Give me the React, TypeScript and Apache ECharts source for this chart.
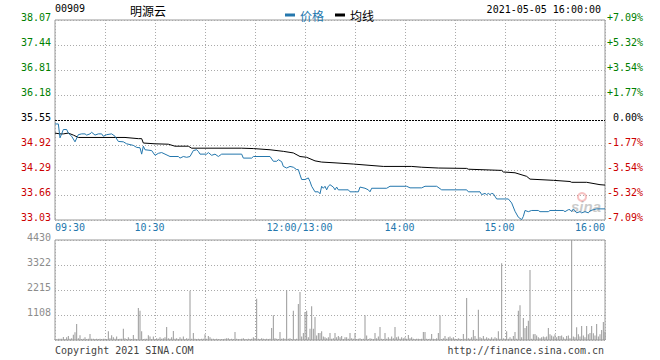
import React, { useEffect, useRef } from 'react';
import * as echarts from 'echarts';

const SYMBOL = '00909';
const NAME = '明源云';
const DATE_TEXT = '2021-05-05 16:00:00';
const COPYRIGHT = 'Copyright 2021 SINA.COM';
const SITE = 'http://finance.sina.com.cn';
const PREV_CLOSE = 35.55;
const PRICE_TICKS = [33.03, 33.66, 34.29, 34.92, 35.55, 36.18, 36.81, 37.44, 38.07];
const PCT_TICKS = ['-7.09%', '-5.32%', '-3.54%', '-1.77%', '0.00%', '+1.77%', '+3.54%', '+5.32%', '+7.09%'];
const VOL_TICKS = ['', '1108', '2215', '3322', '4430'];
const VOL_MAX = 4430;
const TIME_LABEL_MIN = [0, 60, 150, 210, 270, 330];
const TIME_LABEL_TEXT = ['09:30', '10:30', '12:00/13:00', '14:00', '15:00', '16:00'];

// [minute since 09:30 (lunch removed), price]
const PRICE_PTS: [number, number][] = [
  [0, 35.45], [2, 35.45], [3, 35.10], [4, 35.20], [5, 35.31], [7, 35.31], [8, 35.22], [10, 35.14], [12, 35.00],
  [14, 35.18], [16, 35.20], [18, 35.20], [19, 35.17], [21, 35.20], [22, 35.24], [24, 35.17], [26, 35.20], [28, 35.20],
  [29, 35.14], [31, 35.18], [34, 35.20], [36, 35.14], [38, 35.01], [41, 35.00], [43, 34.95], [45, 34.93], [47, 34.91],
  [49, 34.86], [51, 34.85], [52, 34.69], [53, 34.89], [54, 34.80], [58, 34.78], [60, 34.66], [62, 34.71], [64, 34.73],
  [66, 34.69], [69, 34.63], [74, 34.63], [75, 34.59], [77, 34.63], [79, 34.61], [81, 34.63], [83, 34.78], [85, 34.80],
  [86, 34.76], [87, 34.69], [91, 34.69], [92, 34.73], [94, 34.66], [96, 34.69], [98, 34.63], [100, 34.69], [112, 34.69],
  [113, 34.59], [118, 34.59], [119, 34.63], [129, 34.63], [131, 34.51], [133, 34.51], [134, 34.55], [136, 34.50],
  [137, 34.38], [139, 34.34], [141, 34.38], [143, 34.36], [145, 34.30], [146, 34.30], [147, 34.17], [148, 34.05],
  [150, 34.05], [152, 34.09], [153, 34.00], [154, 33.88], [156, 33.74], [158, 33.74], [159, 33.69], [160, 33.88],
  [161, 33.83], [162, 33.88], [163, 33.79], [164, 33.88], [165, 33.92], [167, 33.86], [168, 33.79], [169, 33.86],
  [170, 33.79], [176, 33.79], [177, 33.74], [182, 33.74], [183, 33.86], [186, 33.83], [188, 33.79], [189, 33.74],
  [190, 33.83], [199, 33.83], [201, 33.88], [211, 33.88], [213, 33.84], [220, 33.84], [222, 33.88], [229, 33.88],
  [232, 33.79], [247, 33.79], [248, 33.74], [255, 33.74], [256, 33.67], [258, 33.70], [259, 33.67], [260, 33.70],
  [261, 33.67], [262, 33.70], [263, 33.69], [265, 33.56], [272, 33.56], [274, 33.46], [276, 33.25], [278, 33.10],
  [280, 33.04], [281, 33.12], [282, 33.27], [284, 33.24], [286, 33.27], [290, 33.27], [291, 33.24], [296, 33.24],
  [297, 33.27], [305, 33.27], [306, 33.24], [308, 33.29], [309, 33.29], [310, 33.24], [311, 33.31], [313, 33.21],
  [315, 33.24], [316, 33.21], [318, 33.24], [320, 33.21], [321, 33.26], [323, 33.29], [325, 33.31], [330, 33.31],
];

const AVG_PTS: [number, number][] = [
  [0, 35.22], [3, 35.20], [5, 35.20], [8, 35.22], [11, 35.17], [14, 35.11], [42, 35.11], [50, 35.08], [52, 35.08],
  [53, 34.97], [60, 34.95], [68, 34.94], [72, 34.89], [80, 34.89], [82, 34.84], [112, 34.84], [119, 34.83],
  [129, 34.80], [137, 34.76], [143, 34.72], [147, 34.63], [151, 34.61], [156, 34.52], [160, 34.49], [168, 34.47],
  [179, 34.44], [197, 34.38], [214, 34.38], [220, 34.36], [230, 34.34], [247, 34.33], [248, 34.31], [268, 34.28],
  [269, 34.24], [276, 34.22], [283, 34.13], [285, 34.06], [299, 34.03], [309, 34.00], [310, 33.98], [319, 33.98],
  [327, 33.92], [330, 33.91],
];

// volume per minute, minute 0..330
const VOLUME = [
  40, 30, 50, 60, 50, 130, 40, 120, 177, 60, 80, 236, 340, 709, 80, 207, 40, 60, 120, 40, 50, 266, 50, 60, 40, 50, 40, 60, 40, 50,
  60, 40, 384, 80, 207, 120, 60, 150, 40, 50, 60, 502, 80, 40, 120, 50, 40, 221, 60, 40, 1418, 1300, 384, 40, 50, 60, 207, 150, 40, 150,
  40, 80, 60, 120, 60, 80, 120, 576, 80, 60, 120, 399, 60, 80, 40, 120, 60, 150, 40, 80, 60, 2185, 60, 310, 50, 40, 60, 40, 50, 60,
  250, 60, 177, 120, 60, 50, 40, 60, 40, 30, 40, 40, 60, 80, 80, 40, 50, 40, 354, 60, 40, 30, 60, 80, 40, 30, 60, 40, 50, 120,
  80, 1831, 60, 40, 80, 60, 40, 60, 40, 60, 532, 1092, 80, 60, 40, 354, 60, 80, 60, 2215, 60, 80, 40, 1300, 30, 60, 1595, 2126, 150, 310,
  1240, 1300, 120, 502, 1492, 502, 1019, 200, 310, 310, 384, 150, 120, 80, 120, 310, 60, 80, 310, 120, 177, 120, 177, 40, 120, 120, 60, 310, 80, 60,
  310, 40, 60, 80, 40, 60, 1092, 200, 40, 80, 60, 40, 310, 80, 150, 576, 60, 40, 310, 60, 120, 60, 150, 80, 576, 120, 150, 60, 120, 80,
  120, 60, 221, 80, 120, 60, 40, 50, 60, 40, 60, 354, 354, 60, 40, 50, 266, 60, 40, 80, 310, 1092, 40, 80, 177, 60, 120, 150, 80, 120,
  60, 40, 80, 60, 40, 266, 60, 1861, 80, 60, 120, 443, 177, 60, 1344, 120, 80, 177, 60, 120, 80, 60, 120, 60, 120, 80, 384, 60, 3400, 80,
  60, 384, 60, 120, 60, 177, 354, 60, 1300, 1536, 120, 975, 532, 620, 857, 3101, 60, 250, 266, 200, 120, 80, 120, 150, 120, 150, 532, 250, 200, 150,
  250, 120, 177, 177, 200, 120, 60, 177, 200, 80, 4430, 150, 120, 561, 250, 150, 620, 200, 120, 620, 250, 310, 620, 300, 200, 709, 150, 250, 443, 797, 354,
];

const P_MIN = PRICE_TICKS[0];
const P_STEP = PRICE_TICKS[1] - PRICE_TICKS[0];
const toU = (p: number) => (p - P_MIN) / P_STEP;

const BLUE = '#2477ad';
const GREEN = '#008000';
const RED = '#cc0000';
const GRAY_LABEL = '#8c8c8c';
const MONO = 'DejaVu Sans Mono';
const CJK = 'Noto Sans CJK SC';

export default function App() {
  const ref = useRef<HTMLDivElement>(null);
  useEffect(() => {
    const chart = echarts.init(ref.current!, null, { renderer: 'svg' });
    const gridLine = { show: true, lineStyle: { color: '#aaa', type: [1, 2], width: 1 } };
    const xBase = {
      type: 'value', min: 0, max: 330, interval: 30,
      axisLine: { show: false }, axisTick: { show: false }, splitLine: gridLine,
    };
    const labelFont = { fontFamily: MONO, fontSize: 10 };
    // rich styles; "s" is an invisible spacer line under the label that lifts it a few pixels
    const yRich = {
      g: { ...labelFont, color: GREEN, lineHeight: 11 },
      k: { ...labelFont, color: '#000', lineHeight: 11 },
      r: { ...labelFont, color: RED, lineHeight: 11 },
      z: { ...labelFont, color: '#000', lineHeight: 11, padding: [0, 0, 0, 6] },
      v: { ...labelFont, color: GRAY_LABEL, lineHeight: 11 },
      s: { fontSize: 1, lineHeight: 5, height: 5 },
    };
    const tokenFor = (u: number) => (u > 4 ? 'g' : u === 4 ? 'k' : 'r');
    const option: any = {
      animation: false,
      backgroundColor: '#fff',
      grid: [
        { left: 55, top: 20, width: 550, height: 200, show: true, borderColor: '#999', borderWidth: 1 },
        { left: 55, top: 240, width: 550, height: 100, show: true, borderColor: '#999', borderWidth: 1 },
      ],
      legend: {
        left: 285, top: 4, padding: [5, 5, 5, 0], itemWidth: 10, itemHeight: 3, itemGap: 11, icon: 'rect',
        textStyle: { fontFamily: CJK, fontSize: 12 },
        data: [
          { name: '价格', textStyle: { color: BLUE } },
          { name: '均线', textStyle: { color: '#000' } },
        ],
      },
      xAxis: [
        {
          ...xBase, gridIndex: 0,
          axisLabel: {
            show: true, margin: 2, ...labelFont, color: BLUE,
            formatter: (v: number) => {
              const i = TIME_LABEL_MIN.indexOf(Math.round(v));
              if (i < 0) return '';
              const t = TIME_LABEL_TEXT[i];
              if (i === 0) return `{l|${t}}`;
              if (i === TIME_LABEL_MIN.length - 1) return `{r|${t}}`;
              return `{m|${t}}`;
            },
            rich: {
              l: { ...labelFont, color: BLUE, padding: [0, 0, 0, 30] },
              r: { ...labelFont, color: BLUE, padding: [0, 30, 0, 0] },
              m: { ...labelFont, color: BLUE, padding: [0, 11, 0, 0] },
            },
          },
        },
        { ...xBase, gridIndex: 1, axisLabel: { show: false } },
      ],
      yAxis: [
        {
          type: 'value', gridIndex: 0, min: 0, max: PRICE_TICKS.length - 1, interval: 1, position: 'left',
          axisLine: { show: false }, axisTick: { show: false }, splitLine: gridLine,
          axisLabel: {
            margin: 4, ...labelFont,
            formatter: (v: number) => {
              const u = Math.round(v);
              return `{${tokenFor(u)}|${PRICE_TICKS[u].toFixed(2)}}\n{s| }`;
            },
            rich: yRich,
          },
        },
        {
          type: 'value', gridIndex: 0, min: 0, max: PRICE_TICKS.length - 1, interval: 1, position: 'right',
          axisLine: { show: false }, axisTick: { show: false }, splitLine: { show: false },
          axisLabel: {
            margin: 2, ...labelFont,
            formatter: (v: number) => {
              const u = Math.round(v);
              const tok = u === 4 ? 'z' : tokenFor(u);
              return `{${tok}|${PCT_TICKS[u]}}\n{s| }`;
            },
            rich: yRich,
          },
        },
        {
          type: 'value', gridIndex: 1, min: 0, max: VOL_MAX, interval: VOL_MAX / 4,
          axisLine: { show: false }, axisTick: { show: false }, splitLine: gridLine,
          axisLabel: {
            margin: 4, ...labelFont,
            formatter: (v: number) => {
              const t = VOL_TICKS[Math.round(v / (VOL_MAX / 4))];
              return t ? `{v|${t}}\n{s| }` : '';
            },
            rich: yRich,
          },
        },
      ],
      series: [
        {
          name: '价格', type: 'line', xAxisIndex: 0, yAxisIndex: 0, showSymbol: false, color: BLUE,
          lineStyle: { color: BLUE, width: 1 }, itemStyle: { color: BLUE },
          data: PRICE_PTS.map(([m, p]) => [m, toU(p)]),
          markLine: {
            silent: true, symbol: 'none', label: { show: false },
            lineStyle: { color: '#000', type: [2, 1], width: 1 },
            data: [{ yAxis: toU(PREV_CLOSE) }],
          },
          z: 3,
        },
        {
          name: '均线', type: 'line', xAxisIndex: 0, yAxisIndex: 0, showSymbol: false, color: '#000',
          lineStyle: { color: '#000', width: 1 }, itemStyle: { color: '#000' },
          data: AVG_PTS.map(([m, p]) => [m, toU(p)]),
          z: 2,
        },
        {
          name: '成交量', type: 'bar', xAxisIndex: 1, yAxisIndex: 2, barWidth: 1,
          itemStyle: { color: '#999' },
          data: VOLUME.map((v, i) => [i, v]),
        },
      ],
      graphic: [
        { type: 'text', x: 55, y: 8, style: { text: SYMBOL, font: `10px "${MONO}"`, fill: '#000', align: 'left', verticalAlign: 'middle' } },
        { type: 'text', x: 130, y: 10, style: { text: NAME, font: `12px "${CJK}"`, fill: '#000', align: 'left', verticalAlign: 'middle' } },
        { type: 'text', x: 601, y: 9, style: { text: DATE_TEXT, font: `10px "${MONO}"`, fill: '#000', align: 'right', verticalAlign: 'middle' } },
        { type: 'text', x: 55, y: 350, style: { text: COPYRIGHT, font: `10px "${MONO}"`, fill: '#444', align: 'left', verticalAlign: 'middle' } },
        { type: 'text', x: 604, y: 350, style: { text: SITE, font: `10px "${MONO}"`, fill: '#444', align: 'right', verticalAlign: 'middle' } },
        { type: 'ring', shape: { cx: 582, cy: 197, r: 5, r0: 3 }, style: { fill: 'rgba(235,120,120,0.45)' }, z: 1 },
        { type: 'text', x: 586, y: 206, style: { text: 'sina', font: 'italic bold 15px "Liberation Sans"', fill: 'rgba(150,150,150,0.5)', align: 'center', verticalAlign: 'middle' }, z: 1 },
      ],
    };
    chart.setOption(option);
    return () => chart.dispose();
  }, []);
  return <div ref={ref} style={{ position: 'absolute', left: 0, top: 0, width: 660, height: 360 }} />;
}
